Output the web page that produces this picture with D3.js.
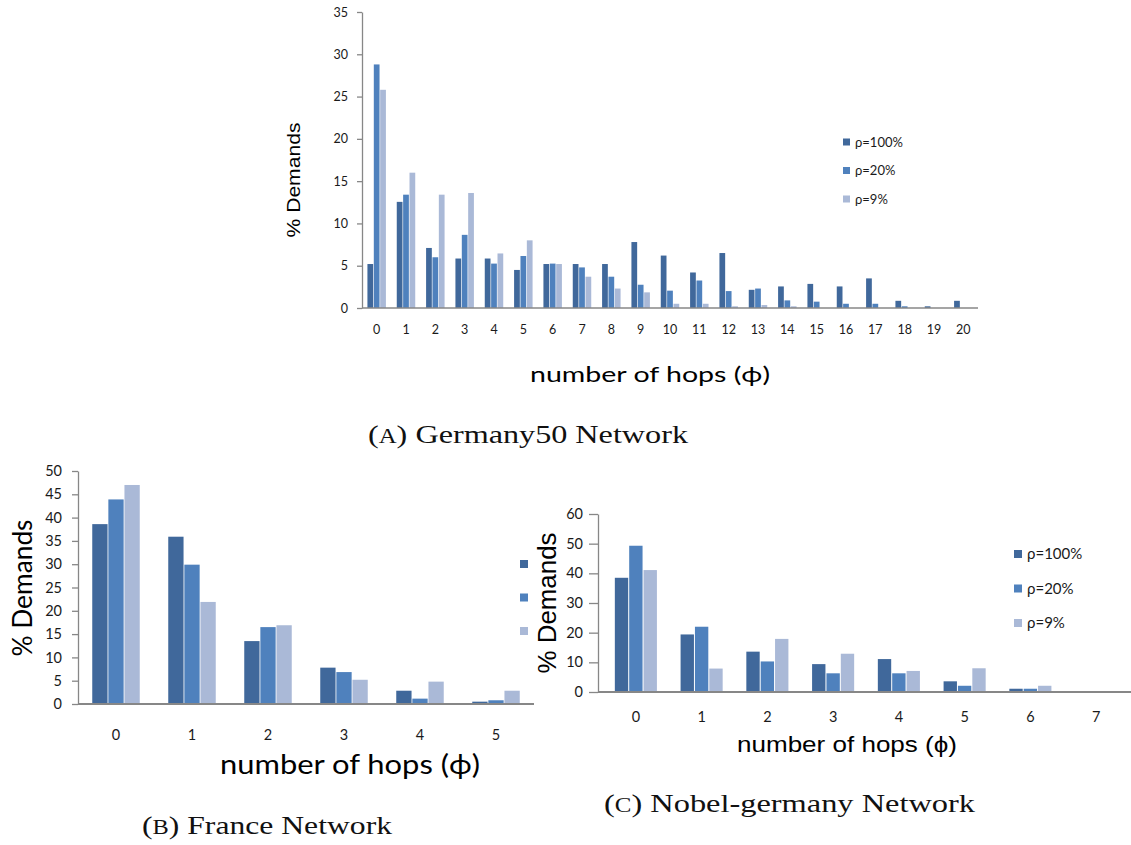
<!DOCTYPE html>
<html>
<head>
<meta charset="utf-8">
<script src="https://cdn.jsdelivr.net/npm/d3@7"></script>
<style>
  html, body { margin: 0; padding: 0; background: #fff; }
  svg { display: block; }
</style>
</head>
<body>
<svg id="chart" width="1131" height="845"></svg>
<script>
// ---------- DATA ----------
const seriesNames = ["ρ=100%", "ρ=20%", "ρ=9%"];

// (A) Germany50
const hopsA = ["0","1","2","3","4","5","6","7","8","9","10","11","12","13","14","15","16","17","18","19","20"];
const a100 = [5.2, 12.55, 7.1, 5.85, 5.85, 4.5, 5.2, 5.2, 5.2, 7.8, 6.2, 4.2, 6.5, 2.15, 2.55, 2.85, 2.55, 3.5, 0.85, 0.2, 0.85];
const a20  = [28.8, 13.4, 6.0, 8.65, 5.25, 6.15, 5.25, 4.8, 3.7, 2.75, 2.05, 3.25, 2.0, 2.3, 0.9, 0.75, 0.5, 0.5, 0.2, 0, 0];
const a9   = [25.8, 16.0, 13.4, 13.6, 6.45, 8.0, 5.2, 3.7, 2.3, 1.85, 0.5, 0.5, 0.2, 0.35, 0.2, 0, 0, 0, 0, 0, 0];
const ticksA = [0, 5, 10, 15, 20, 25, 30, 35];

// (B) France
const hopsB = ["0","1","2","3","4","5"];
const b100 = [38.6, 35.9, 13.5, 7.8, 2.85, 0.5];
const b20  = [43.9, 29.9, 16.5, 6.85, 1.15, 0.8];
const b9   = [47.0, 21.9, 16.9, 5.2, 4.8, 2.85];
const ticksB = [0, 5, 10, 15, 20, 25, 30, 35, 40, 45, 50];

// (C) Nobel-germany
const hopsC = ["0","1","2","3","4","5","6","7"];
const c100 = [38.5, 19.4, 13.6, 9.4, 11.1, 3.6, 1.1, 0];
const c20  = [49.3, 22.0, 10.3, 6.3, 6.3, 2.1, 1.1, 0];
const c9   = [41.1, 7.9, 17.9, 12.9, 7.1, 8.0, 2.1, 0.1];
const ticksC = [0, 10, 20, 30, 40, 50, 60];

const colors = ["#40689b", "#4f81bd", "#aab9d7"];
const axisColor = "#878787";

const svg = d3.select("#chart");

function drawPanel(cfg) {
  const g = svg.append("g");
  const x0 = d3.scaleBand().domain(cfg.cats).range([cfg.xStart, cfg.xEnd])
    .paddingInner(cfg.padOuter).paddingOuter(cfg.padOuter / 2);
  const x1 = d3.scaleBand().domain(d3.range(cfg.series.length)).range([0, x0.bandwidth()])
    .paddingInner(cfg.padInner);
  const y = d3.scaleLinear().domain([0, cfg.yMax]).range([cfg.yBottom, cfg.yTop]);

  // bars
  cfg.series.forEach((vals, si) => {
    g.append("g").selectAll("rect").data(vals).join("rect")
      .attr("x", (d, i) => x0(cfg.cats[i]) + x1(si))
      .attr("y", d => y(d))
      .attr("width", x1.bandwidth())
      .attr("height", d => y(0) - y(d))
      .attr("fill", colors[si]);
  });

  // y axis
  const yAxis = d3.axisLeft(y).tickValues(cfg.yTicks).tickSize(cfg.tickLen).tickPadding(cfg.tickPad).tickSizeOuter(0);
  const ya = g.append("g").attr("transform", `translate(${cfg.axisX},0)`).call(yAxis);
  ya.select(".domain").attr("stroke", axisColor).attr("stroke-width", 1.3);
  ya.selectAll(".tick line").attr("stroke", axisColor).attr("stroke-width", 1.3);
  ya.selectAll(".tick text").attr("font-family", "Lato, 'Open Sans', sans-serif")
    .attr("font-size", cfg.tickFont).attr("fill", "#1a1a1a");

  // x axis
  const xAxis = d3.axisBottom(x0).tickSize(0).tickPadding(cfg.xTickPad);
  const xa = g.append("g").attr("transform", `translate(0,${cfg.yBottom})`).call(xAxis);
  xa.select(".domain").remove();
  xa.selectAll(".tick text").attr("font-family", "Lato, 'Open Sans', sans-serif")
    .attr("font-size", cfg.tickFont).attr("fill", "#1a1a1a");
  g.append("line").attr("x1", cfg.axisX).attr("x2", cfg.axisEnd)
    .attr("y1", cfg.yBottom).attr("y2", cfg.yBottom)
    .attr("stroke", axisColor).attr("stroke-width", cfg.xAxisW);

  // y title
  g.append("text")
    .attr("transform", `translate(${cfg.yTitleX},${cfg.yTitleY}) rotate(-90)`)
    .attr("text-anchor", "middle")
    .attr("font-family", cfg.yTitleFamily).attr("font-size", cfg.yTitleFont)
    .attr("textLength", cfg.yTitleLen).attr("lengthAdjust", "spacingAndGlyphs")
    .attr("fill", "#000").text("% Demands");

  // x title
  g.append("text")
    .attr("x", cfg.xTitleX).attr("y", cfg.xTitleY)
    .attr("font-family", cfg.xTitleFamily).attr("font-size", cfg.xTitleFont)
    .attr("textLength", cfg.xTitleLen).attr("lengthAdjust", "spacingAndGlyphs")
    .attr("fill", "#000").text("number of hops (ϕ)");

  // legend
  const lg = g.append("g");
  cfg.series.forEach((s, si) => {
    const cy = cfg.legY + si * cfg.legStep;
    lg.append("rect").attr("x", cfg.legX).attr("y", cy - cfg.legSq / 2)
      .attr("width", cfg.legSq).attr("height", cfg.legSq).attr("fill", colors[si]);
    if (cfg.legText) {
      lg.append("text").attr("x", cfg.legX + cfg.legSq + 5).attr("y", cy)
        .attr("dy", "0.35em")
        .attr("font-family", "Lato, 'Open Sans', sans-serif").attr("font-size", cfg.legFont)
        .attr("fill", "#1a1a1a").text(seriesNames[si]);
    }
  });

  // caption
  const cap = g.append("text").attr("x", cfg.capX).attr("y", cfg.capY)
    .attr("font-family", "'Liberation Serif', 'DejaVu Serif', serif").attr("font-size", 26)
    .attr("textLength", cfg.capLen).attr("lengthAdjust", "spacingAndGlyphs")
    .attr("fill", "#111");
  cap.append("tspan").text("(");
  cap.append("tspan").attr("font-size", 20).text(cfg.capLetter);
  cap.append("tspan").text(") " + cfg.capText);
}

drawPanel({
  cats: hopsA, series: [a100, a20, a9], yMax: 35, yTicks: ticksA,
  xStart: 362, xEnd: 978, axisX: 362, axisEnd: 978, padOuter: 0.37, padInner: 0.1,
  yBottom: 308, yTop: 12, tickLen: 5, tickPad: 9, tickFont: 12.5, xTickPad: 17, xAxisW: 1.5,
  yTitleX: 300, yTitleY: 180, yTitleFont: 19, yTitleLen: 115, yTitleFamily: "'Liberation Sans', Arial, sans-serif",
  xTitleX: 530, xTitleY: 382, xTitleFont: 21, xTitleLen: 240, xTitleFamily: "Lato, 'Open Sans', sans-serif",
  legX: 843, legY: 142, legStep: 28.5, legSq: 7, legText: true, legFont: 13,
  capX: 368, capY: 443, capLen: 320, capLetter: "A", capText: "Germany50 Network"
});

drawPanel({
  cats: hopsB, series: [b100, b20, b9], yMax: 50, yTicks: ticksB,
  xStart: 78, xEnd: 534, axisX: 78, axisEnd: 534, padOuter: 0.375, padInner: 0.05,
  yBottom: 704, yTop: 471, tickLen: 6, tickPad: 10, tickFont: 14.5, xTickPad: 26, xAxisW: 2,
  yTitleX: 32, yTitleY: 588, yTitleFont: 26, yTitleLen: 137, yTitleFamily: "Lato, 'Open Sans', sans-serif",
  xTitleX: 220, xTitleY: 774, xTitleFont: 27, xTitleLen: 260, xTitleFamily: "Lato, 'Open Sans', sans-serif",
  legX: 520, legY: 564, legStep: 33.5, legSq: 8, legText: false, legFont: 14,
  capX: 142, capY: 834, capLen: 250, capLetter: "B", capText: "France Network"
});

drawPanel({
  cats: hopsC, series: [c100, c20, c9], yMax: 60, yTicks: ticksC,
  xStart: 603, xEnd: 1129, axisX: 598, axisEnd: 1131, padOuter: 0.36, padInner: 0.07,
  yBottom: 692, yTop: 514, tickLen: 9, tickPad: 6, tickFont: 14.5, xTickPad: 20, xAxisW: 2,
  yTitleX: 556, yTitleY: 603, yTitleFont: 26, yTitleLen: 141, yTitleFamily: "'Liberation Sans', Arial, sans-serif",
  xTitleX: 737, xTitleY: 752, xTitleFont: 22, xTitleLen: 220, xTitleFamily: "'Liberation Sans', Arial, sans-serif",
  legX: 1014, legY: 554, legStep: 34.5, legSq: 8, legText: true, legFont: 15,
  capX: 604, capY: 812, capLen: 371, capLetter: "C", capText: "Nobel-germany Network"
});
</script>
</body>
</html>
